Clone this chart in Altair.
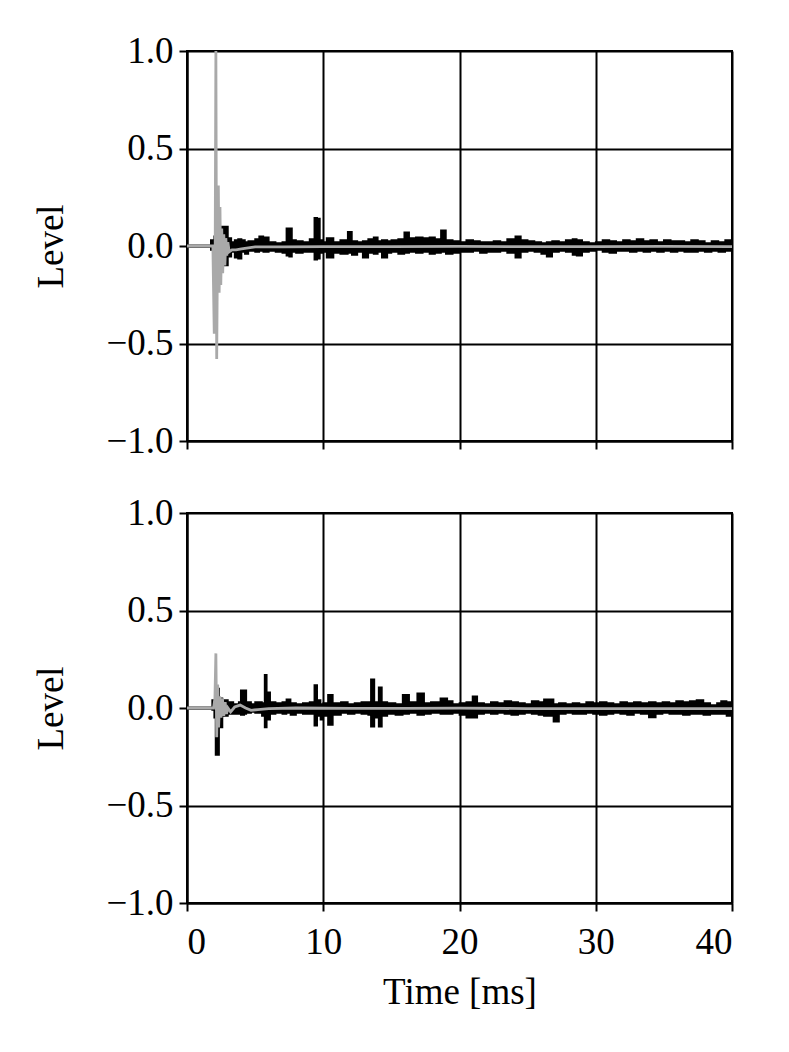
import altair as alt
import pandas as pd

# ---------------- data ----------------
# Top panel, black trace: envelope (upper / lower) at time points [ms]
top_t = [0, 1.5, 1.75, 1.9, 2.0, 2.5, 3.0, 3.25, 3.5, 3.75, 4.0, 4.25, 4.5, 5.0, 5.3, 5.6,
         6.0, 6.5, 7.0, 7.3, 7.5, 7.7, 8.0, 8.5, 9.0, 9.35, 9.55, 9.75, 10.0, 10.25, 10.75,
         11.25, 11.8, 12.1, 12.5, 12.9, 13.3, 13.7, 14.0, 14.3, 14.7, 15.0, 15.5, 15.95,
         16.3, 16.8, 17.3, 17.8, 18.2, 18.64, 19.0, 19.5, 20.0, 20.5, 21.0, 21.5, 22.0,
         22.5, 23.0, 23.5, 24.1, 24.5, 25.0, 25.5, 26.0, 26.4, 26.8, 27.3, 27.8, 28.3,
         28.6, 29.0, 29.5, 30.0, 30.5, 31.0, 31.5, 32.0, 32.5, 33.0, 33.5, 34.0, 34.5,
         35.0, 35.5, 36.0, 36.5, 37.0, 37.5, 38.0, 38.5, 39.0, 39.5, 40.0]
top_up = [0.003, 0.003, 0.03, 0.01, 0.05, 0.1, 0.04, 0.02, 0.03, 0.035, 0.03, 0.02, 0.025,
          0.035, 0.05, 0.045, 0.02, 0.015, 0.02, 0.09, 0.09, 0.03, 0.025, 0.02, 0.035, 0.145,
          0.14, 0.03, 0.02, 0.04, 0.02, 0.03, 0.073, 0.025, 0.02, 0.025, 0.035, 0.045, 0.025,
          0.03, 0.025, 0.03, 0.035, 0.07, 0.04, 0.045, 0.04, 0.045, 0.035, 0.08, 0.03, 0.025,
          0.02, 0.03, 0.025, 0.02, 0.02, 0.025, 0.02, 0.035, 0.05, 0.03, 0.025, 0.02, 0.015,
          0.02, 0.025, 0.02, 0.03, 0.035, 0.03, 0.02, 0.015, 0.02, 0.03, 0.025, 0.02, 0.03,
          0.025, 0.035, 0.025, 0.03, 0.02, 0.03, 0.025, 0.025, 0.02, 0.03, 0.025, 0.015,
          0.025, 0.02, 0.03, 0.025]
top_lo = [-0.003, -0.003, -0.02, -0.01, -0.05, -0.1, -0.055, -0.03, -0.06, -0.065, -0.03,
          -0.04, -0.025, -0.03, -0.025, -0.03, -0.025, -0.03, -0.035, -0.05, -0.055, -0.03,
          -0.035, -0.03, -0.03, -0.07, -0.065, -0.035, -0.03, -0.06, -0.035, -0.04, -0.035,
          -0.045, -0.03, -0.06, -0.035, -0.04, -0.03, -0.06, -0.035, -0.03, -0.04, -0.035,
          -0.03, -0.035, -0.03, -0.04, -0.035, -0.03, -0.04, -0.035, -0.03, -0.03, -0.025,
          -0.035, -0.03, -0.03, -0.025, -0.035, -0.06, -0.03, -0.025, -0.03, -0.04, -0.055,
          -0.03, -0.025, -0.03, -0.045, -0.05, -0.03, -0.025, -0.02, -0.03, -0.035, -0.025,
          -0.025, -0.03, -0.025, -0.03, -0.025, -0.03, -0.025, -0.03, -0.025, -0.03, -0.03,
          -0.025, -0.03, -0.025, -0.03, -0.025, -0.03]

# Top panel, grey trace
top_gt = [0, 1.9, 2.0, 2.07, 2.12, 2.18, 2.25, 2.3, 2.36, 2.42, 2.48, 2.55, 2.62, 2.7, 2.78,
          2.85, 2.92, 3.0, 3.1, 3.3, 3.6, 4.0, 4.5, 5.0, 7.0, 10.0, 15.0, 20.0, 25.0, 30.0,
          35.0, 40.0]
top_gv = [0.0, 0.0, -0.45, 0.0, 1.0, -0.58, 0.1, 0.31, -0.24, 0.2, -0.2, 0.09, -0.14, 0.06,
          -0.1, 0.04, -0.05, 0.02, -0.03, -0.02, -0.02, -0.015, -0.01, -0.005, -0.004,
          -0.003, -0.003, -0.002, -0.003, -0.003, -0.002, -0.003]

# Bottom panel, black trace
bot_t = [0, 1.5, 1.85, 2.0, 2.1, 2.2, 2.35, 2.6, 3.0, 3.4, 3.8, 3.95, 4.2, 4.35, 4.7, 5.0,
         5.5, 5.7, 5.85, 6.1, 6.5, 7.0, 7.3, 7.6, 8.0, 8.5, 9.0, 9.35, 9.55, 9.8, 10.0, 10.35,
         10.7, 11.3, 11.8, 12.3, 12.8, 13.3, 13.5, 13.75, 14.07, 14.3, 14.7, 15.3, 15.83,
         16.3, 16.9, 17.4, 17.9, 18.6, 19.1, 19.5, 20.0, 20.5, 20.96, 21.3, 21.8, 22.3, 22.8,
         23.3, 23.8, 24.3, 24.8, 25.3, 25.8, 26.2, 26.9, 27.3, 27.8, 28.3, 28.8, 29.3, 29.8,
         30.3, 30.8, 31.3, 31.8, 32.3, 32.8, 33.3, 33.9, 34.4, 34.9, 35.4, 35.9, 36.4, 36.9,
         37.4, 37.9, 38.4, 38.9, 39.2, 39.6, 40.0]
bot_up = [0.003, 0.003, 0.04, 0.03, 0.1, 0.1, 0.05, 0.04, 0.03, 0.02, 0.03, 0.09, 0.09, 0.03,
          0.02, 0.03, 0.025, 0.17, 0.08, 0.03, 0.025, 0.03, 0.045, 0.025, 0.02, 0.025, 0.03,
          0.118, 0.04, 0.02, 0.025, 0.067, 0.025, 0.03, 0.02, 0.025, 0.03, 0.03, 0.147, 0.03,
          0.106, 0.03, 0.025, 0.02, 0.067, 0.03, 0.075, 0.025, 0.03, 0.05, 0.035, 0.02, 0.025,
          0.03, 0.06, 0.025, 0.02, 0.03, 0.025, 0.035, 0.03, 0.025, 0.02, 0.035, 0.03, 0.045,
          0.02, 0.025, 0.02, 0.025, 0.02, 0.03, 0.025, 0.03, 0.025, 0.02, 0.03, 0.025, 0.03,
          0.025, 0.03, 0.025, 0.03, 0.025, 0.035, 0.03, 0.035, 0.04, 0.025, 0.015, 0.025,
          0.035, 0.03, 0.02]
bot_lo = [-0.003, -0.003, -0.01, -0.05, -0.24, -0.24, -0.1, -0.04, -0.03, -0.03, -0.03,
          -0.035, -0.03, -0.025, -0.02, -0.025, -0.04, -0.1, -0.06, -0.03, -0.025, -0.03,
          -0.025, -0.035, -0.025, -0.03, -0.03, -0.09, -0.04, -0.06, -0.04, -0.087, -0.035,
          -0.025, -0.03, -0.025, -0.03, -0.035, -0.096, -0.05, -0.096, -0.04, -0.03, -0.035,
          -0.03, -0.025, -0.035, -0.03, -0.025, -0.03, -0.03, -0.025, -0.035, -0.05, -0.05,
          -0.03, -0.025, -0.03, -0.025, -0.03, -0.035, -0.03, -0.025, -0.03, -0.035, -0.04,
          -0.07, -0.03, -0.025, -0.03, -0.03, -0.025, -0.03, -0.035, -0.03, -0.025, -0.03,
          -0.035, -0.025, -0.03, -0.048, -0.03, -0.025, -0.03, -0.03, -0.035, -0.03, -0.03,
          -0.035, -0.03, -0.03, -0.03, -0.04, -0.045]

# Bottom panel, grey trace
bot_gt = [0, 1.95, 2.05, 2.12, 2.18, 2.25, 2.32, 2.4, 2.5, 2.6, 2.7, 2.8, 2.9, 3.0, 3.2, 3.5,
          3.9, 4.3, 4.7, 5.2, 6.0, 8.0, 12.0, 16.0, 20.0, 25.0, 30.0, 35.0, 40.0]
bot_gv = [0.0, 0.0, 0.05, 0.28, -0.15, 0.12, -0.1, 0.06, -0.05, 0.05, -0.04, 0.03, -0.03, 0.0,
          -0.02, 0.005, 0.015, 0.0, -0.012, -0.008, -0.003, 0.0, -0.002, -0.002, -0.001,
          -0.003, -0.003, -0.003, -0.003]

x_ticks = [0, 10, 20, 30, 40]
y_ticks = [-1.0, -0.5, 0.0, 0.5, 1.0]

FONT = "Liberation Serif"
FS = 37


def panel(t, up, lo, gt, gv, bottom):
    black = pd.DataFrame({"t": t, "up": up, "lo": lo})
    grey = pd.DataFrame({"t": gt, "v": gv})
    xaxis = alt.Axis(values=x_ticks, labels=bottom, title="Time [ms]" if bottom else None,
                     grid=True, format="d", labelPadding=13, titlePadding=14)
    xs = alt.Scale(domain=[0, 40], nice=False, zero=False)
    ys = alt.Scale(domain=[-1, 1], nice=False)
    yaxis = alt.Axis(values=y_ticks, format=".1f", title="Level", grid=True,
                     labelPadding=6, titlePadding=35)
    a = alt.Chart(black).mark_area(color="black", stroke="black", strokeWidth=1.7,
                                   interpolate="step-after", clip=True).encode(
        x=alt.X("t:Q", scale=xs, axis=xaxis),
        y=alt.Y("up:Q", scale=ys, axis=yaxis),
        y2="lo:Q",
    )
    g = alt.Chart(grey).mark_line(color="#a9a9a9", strokeWidth=2.8, clip=True).encode(
        x=alt.X("t:Q", scale=xs),
        y=alt.Y("v:Q", scale=ys),
    )
    return alt.layer(a, g).properties(width=545, height=390)


chart = alt.vconcat(
    panel(top_t, top_up, top_lo, top_gt, top_gv, False),
    panel(bot_t, bot_up, bot_lo, bot_gt, bot_gv, True),
    spacing=72,
    bounds="flush",
).properties(
    padding={"left": 23, "top": 23, "right": 10, "bottom": 10},
    background="white",
).configure_view(
    stroke="black", strokeWidth=2
).configure_axis(
    labelFont=FONT, titleFont=FONT, labelFontSize=FS, titleFontSize=FS,
    labelColor="black", titleColor="black", titleFontWeight="normal",
    gridColor="black", gridWidth=2, gridOpacity=1,
    tickColor="black", tickWidth=2, tickSize=8,
    domainColor="black", domainWidth=2,
)

chart.save("out.html", embed_options={"renderer": "svg", "actions": False})
